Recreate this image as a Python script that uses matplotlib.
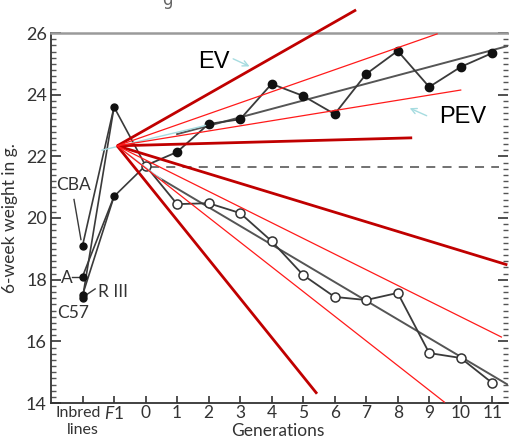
import matplotlib
matplotlib.use("Agg")
import matplotlib.pyplot as plt
import numpy as np

# ---------------- data ----------------
tick_pos = [-2, -1, 0, 1, 2, 3, 4, 5, 6, 7, 8, 9, 10, 11]
tick_labels = ["", r"$\mathit{F}$1", "0", "1", "2", "3", "4", "5",
               "6", "7", "8", "9", "10", "11"]

gens = [0, 1, 2, 3, 4, 5, 6, 7, 8, 9, 10, 11]
up_weight = [21.7, 22.14, 23.05, 23.2, 24.35, 23.96, 23.37, 24.67, 25.42, 24.25, 24.9, 25.35]
down_weight = [21.7, 20.45, 20.48, 20.16, 19.25, 18.15, 17.44, 17.34, 17.57, 15.62, 15.46, 14.65]

inbred_names = ["CBA", "A", "R III", "C57"]
inbred_weight = [19.1, 18.1, 17.5, 17.4]
f1_weight = [23.6, 20.7]          # F1 of CBA x C57 and of A x R III
inbred_to_f1 = [0, 1, 1, 0]       # which F1 each inbred line feeds

# fitted regression lines (x range, y range)
up_reg_x = [1.0, 11.5]
up_reg_y = [22.72, 25.58]
down_reg_x = [0.3, 11.5]
down_reg_y = [21.38, 14.59]
control_level = 21.65

# red fan overlay: common origin and end points
fan_origin = (-0.9, 22.34)
fan_dark_x = [6.68, 8.46, 11.48, 5.44]
fan_dark_y = [26.75, 22.6, 18.48, 14.3]
fan_light_x = [9.25, 10.0, 11.29, 9.48]
fan_light_y = [25.97, 24.15, 16.14, 14.03]

# ---------------- figure ----------------
plt.rcParams["mathtext.fontset"] = "custom"
plt.rcParams["mathtext.it"] = "Lato:italic"
plt.rcParams["mathtext.rm"] = "Lato"

fig = plt.figure(figsize=(5.09, 4.38), dpi=100)
ax = fig.add_axes([51 / 509, 35 / 438, 457 / 509, 370 / 438])
ax.set_xlim(-3.0, 11.5)
ax.set_ylim(14, 26)

ink = "#3a3a3a"

# inbred -> F1 lines
for w, k in zip(inbred_weight, inbred_to_f1):
    ax.plot([-2, -1], [w, f1_weight[k]], color=ink, lw=1.2, zorder=3)
# F1 -> generation 0
for fw in f1_weight:
    ax.plot([-1, 0], [fw, up_weight[0]], color=ink, lw=1.2, zorder=3)

ax.plot([-2] * 4, inbred_weight, "o", color="#111", ms=5, zorder=4)
ax.plot([-1] * 2, f1_weight, "o", color="#111", ms=5, zorder=4)

# selection lines
ax.plot(gens, up_weight, "-", color=ink, lw=1.3, zorder=3)
ax.plot(gens[1:], up_weight[1:], "o", color="#111", ms=6, zorder=4)
ax.plot(gens, down_weight, "-o", color=ink, lw=1.3, ms=6.5,
        mfc="white", mec="#333", mew=1.1, zorder=4)

# regressions and control
ax.plot(up_reg_x, up_reg_y, color="#555", lw=1.4, zorder=2)
ax.plot(down_reg_x, down_reg_y, color="#555", lw=1.4, zorder=2)
ax.plot([0.15, 11.2], [control_level] * 2, color="#666", lw=1.3,
        dashes=(5, 4), zorder=2)

# light blue guide lines
ax.plot([-1.38, 1.9], [22.2, 23.0], color="#a6dce0", lw=1.0, zorder=5)
ax.plot([fan_origin[0], 0.5], [fan_origin[1], 21.25], color="#a6dce0", lw=1.0, zorder=5)

# red fan
for x, y in zip(fan_dark_x, fan_dark_y):
    ax.plot([fan_origin[0], x], [fan_origin[1], y], color="#c00000", lw=2.0,
            zorder=6, clip_on=False, solid_capstyle="butt")
for x, y in zip(fan_light_x, fan_light_y):
    ax.plot([fan_origin[0], x], [fan_origin[1], y], color="#ff1a1a", lw=0.9,
            zorder=6, clip_on=False)

# inbred labels
lab_font = dict(family="Lato", fontsize=12.5, color="#333")
ax.text(-2.3, 21.07, "CBA", ha="center", va="center", **lab_font)
ax.plot([-2.27, -2.05], [20.6, 19.3], color=ink, lw=1.0)
ax.text(-2.49, 18.07, "A", ha="center", va="center", **lab_font)
ax.plot([-2.33, -2.1], [18.1, 18.1], color=ink, lw=1.0)
ax.text(-1.5, 17.6, "R III", ha="left", va="center", **lab_font)
ax.plot([-1.6, -1.92], [17.7, 17.48], color=ink, lw=1.0)
ax.text(-2.3, 16.92, "C57", ha="center", va="center", **lab_font)

# EV / PEV annotations
ax.text(2.17, 25.06, "EV", fontsize=17, family="Liberation Sans", ha="center", va="center", zorder=7)
ax.annotate("", xy=(3.38, 24.88), xytext=(2.7, 25.2),
            arrowprops=dict(arrowstyle="->", color="#a6dce0", lw=1.0))
ax.text(10.05, 23.28, "PEV", fontsize=17, family="Liberation Sans", ha="center", va="center", zorder=7)
ax.annotate("", xy=(8.3, 23.6), xytext=(9.0, 23.28),
            arrowprops=dict(arrowstyle="->", color="#a6dce0", lw=1.0))

# axes styling
ax.set_xticks(tick_pos)
ax.set_xticklabels(tick_labels, family="Lato", fontsize=12.5, color="#333")
ax.text(-2.13, 13.66, "Inbred", family="Lato", fontsize=11.5, color="#333",
        ha="center", va="center", clip_on=False)
ax.text(-1.98, 13.12, "lines", family="Lato", fontsize=11.5, color="#333",
        ha="center", va="center", clip_on=False)
ax.set_yticks([14, 16, 18, 20, 22, 24, 26])
ax.set_yticklabels(["14", "16", "18", "20", "22", "24", "26"],
                   family="Lato", fontsize=13, color="#333")
ax.set_yticks(np.arange(14, 26.01, 0.2), minor=True)
ax.tick_params(axis="y", which="major", direction="in", length=7, width=1.2,
               color="#333", pad=3, right=True)
ax.tick_params(axis="y", which="minor", direction="in", length=3.5, width=1.0,
               color="#555", right=True)
ax.tick_params(axis="x", which="major", direction="in", length=5, width=1.2,
               color="#333", pad=1.5)
ax.tick_params(axis="x", which="minor", bottom=False)

for s in ["left", "bottom"]:
    ax.spines[s].set_color("#333")
    ax.spines[s].set_linewidth(1.3)
ax.spines["top"].set_color("#9a9a9a")
ax.spines["top"].set_linewidth(1.8)
ax.spines["right"].set_visible(False)

ax.set_ylabel("6-week weight in g.", family="Lato", fontsize=12.5, color="#333", labelpad=6)
ax.set_xlabel("Generations", family="Lato", fontsize=12.5, color="#333")
ax.xaxis.set_label_coords(0.497, -0.053)

fig.text(167 / 509, 1.0, "ɡ", family="DejaVu Sans", fontsize=12, color="#666",
         ha="center", va="center")

fig.savefig("out.png", dpi=100)
